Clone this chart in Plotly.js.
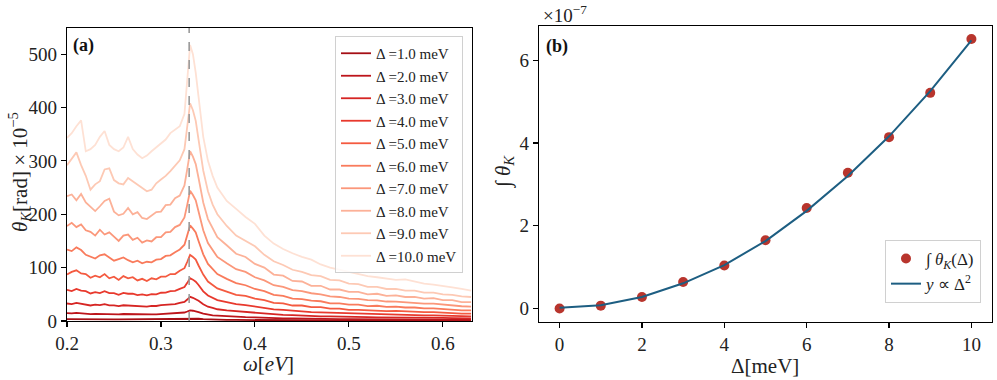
<!DOCTYPE html>
<html>
<head>
<meta charset="utf-8">
<script src="https://cdn.plot.ly/plotly-3.0.1.min.js"></script>
<style>
  html, body { margin: 0; padding: 0; background: #fff; }
  #chart { width: 997px; height: 380px; }
</style>
</head>
<body>
<div id="chart"></div>
<script>
// panel (a): Kerr angle spectra, one curve per gap value
const omega = [0.200, 0.205, 0.210, 0.215, 0.220, 0.225, 0.230, 0.235, 0.240, 0.245,
  0.250, 0.255, 0.260, 0.265, 0.270, 0.275, 0.280, 0.285, 0.290, 0.295,
  0.300, 0.305, 0.310, 0.315, 0.320, 0.325, 0.328, 0.331, 0.334, 0.337,
  0.340, 0.345, 0.350, 0.355, 0.360, 0.370, 0.380, 0.390, 0.400, 0.410,
  0.420, 0.430, 0.440, 0.450, 0.460, 0.470, 0.480, 0.490, 0.500, 0.510,
  0.520, 0.530, 0.540, 0.550, 0.560, 0.570, 0.580, 0.590, 0.600, 0.610,
  0.620, 0.630];

const gaps = [1, 2, 3, 4, 5, 6, 7, 8, 9, 10];

const theta1 = [3.5, 3.6, 3.7, 3.6, 3.4, 3.3, 3.3, 3.4, 3.4, 3.3, 3.2, 3.1, 3.2, 3.3, 3.1, 3.1, 3.0, 3.1, 3.1, 3.2,
  3.2, 3.3, 3.5, 3.5, 3.7, 4.0, 4.4, 5.0, 4.8, 4.6, 4.2, 3.5, 3.0, 2.7, 2.5, 2.2, 2.0, 1.8, 1.7, 1.5,
  1.4, 1.3, 1.2, 1.1, 1.1, 1.0, 0.9, 0.9, 0.9, 0.8, 0.8, 0.8, 0.7, 0.7, 0.7, 0.7, 0.7, 0.6, 0.6, 0.6, 0.6, 0.5];
const theta2 = [14.9, 14.2, 15.1, 14.0, 13.9, 12.9, 13.5, 13.1, 13.9, 13.0, 12.9, 12.3, 13.1, 12.8, 12.7, 12.2, 12.4, 12.0, 12.6, 12.5,
  13.2, 13.3, 14.0, 14.1, 15.0, 15.9, 17.8, 19.9, 19.2, 18.5, 16.6, 13.9, 12.1, 10.6, 10.0, 8.8, 8.0, 7.3, 6.9, 6.0,
  5.7, 5.1, 4.9, 4.4, 4.4, 3.9, 3.8, 3.6, 3.5, 3.4, 3.1, 3.2, 3.0, 2.9, 2.9, 2.8, 2.7, 2.6, 2.5, 2.4, 2.3, 2.2];
const theta3 = [32.8, 31.6, 33.9, 32.0, 31.2, 29.1, 30.5, 29.6, 31.4, 29.2, 29.3, 27.8, 29.5, 28.9, 28.9, 27.3, 28.1, 27.0, 28.4, 28.1,
  29.8, 30.0, 31.6, 31.8, 33.9, 35.8, 40.2, 45.3, 43.5, 41.2, 37.9, 31.4, 26.8, 24.5, 22.0, 19.8, 18.2, 16.5, 15.5, 13.6,
  12.7, 11.4, 11.0, 9.9, 9.8, 8.8, 8.7, 8.0, 8.0, 7.4, 7.3, 6.9, 6.9, 6.5, 6.6, 6.1, 6.1, 5.8, 5.8, 5.3, 5.2, 4.8];
const theta4 = [58.5, 56.2, 60.1, 56.9, 55.8, 51.6, 53.9, 52.4, 55.9, 52.1, 52.3, 49.2, 52.6, 51.1, 51.4, 48.5, 49.9, 48.0, 50.5, 49.8,
  52.9, 53.0, 56.0, 56.3, 60.1, 63.5, 71.5, 80.4, 77.5, 73.6, 67.5, 55.6, 47.7, 43.6, 39.2, 35.3, 31.7, 29.9, 26.8, 24.8,
  21.9, 20.9, 18.9, 18.2, 16.8, 16.3, 14.9, 14.8, 13.7, 13.5, 12.6, 12.7, 11.8, 11.9, 11.3, 11.2, 10.5, 10.6, 9.9, 9.8, 8.9, 8.7];
const theta5 = [87, 92, 95, 89, 88, 81, 85, 82, 88, 80, 83, 77, 84, 80, 82, 76, 79, 75, 80, 78,
  83, 83, 88, 88, 94, 99, 111, 124, 120, 115, 104, 87, 74, 68, 61, 55, 49, 47, 42, 39,
  34, 33, 29, 29, 26, 26, 23, 23, 21, 21, 20, 20, 18.5, 18.8, 17.6, 17.8, 16.5, 16.6, 15.5, 15.4, 14.0, 13.8];
const theta6 = [134, 131, 138, 133, 124, 121, 117, 123, 125, 119, 113, 116, 119, 114, 110, 113, 108, 111, 110, 115,
  116, 122, 123, 129, 134, 143, 160, 179, 173, 166, 150, 125, 107, 98, 88, 79, 71, 67, 60, 56,
  49, 47, 42, 41, 38, 37, 33, 33, 30.5, 30.5, 28, 28.6, 26.4, 26.8, 25.3, 25.3, 23.6, 23.8, 22.2, 22.0, 20.0, 19.8];
const theta7 = [178, 184, 176, 181, 170, 167, 160, 171, 162, 166, 158, 150, 160, 162, 152, 156, 147, 151, 149, 157,
  157, 166, 167, 176, 180, 194, 218, 244, 236, 226, 205, 170, 146, 133, 120, 108, 97, 92, 82, 76,
  67, 64, 58, 56, 52, 50, 46, 45, 42, 41.5, 39, 38.8, 36.5, 36.4, 35, 34.4, 32.5, 32.4, 30.6, 29.9, 27.6, 27];
const theta8 = [234, 237, 226, 238, 222, 214, 206, 215, 225, 229, 205, 198, 201, 212, 200, 204, 193, 191, 197, 204,
  205, 217, 218, 230, 235, 254, 285, 318, 308, 294, 268, 222, 191, 174, 157, 142, 126, 120, 107, 100,
  87, 85, 75, 74, 66, 66, 59, 59, 54.5, 54.5, 50, 51, 47, 48, 45, 45, 42, 43, 39, 39, 35.5, 35.5];
const theta9 = [292, 305, 316, 292, 272, 246, 256, 262, 284, 286, 264, 258, 256, 268, 262, 255, 250, 243, 246, 258,
  265, 272, 281, 290, 301, 322, 362, 408, 395, 375, 340, 282, 243, 218, 200, 178, 160, 150, 140, 124,
  112, 105, 96, 92, 86, 84, 77, 76, 70, 69, 64, 64, 60, 60, 57, 57, 53, 53, 50, 49, 46, 45];
const theta10 = [343, 352, 365, 376, 318, 322, 330, 345, 356, 330, 322, 318, 325, 345, 322, 312, 305, 310, 318, 325,
  332, 340, 352, 358, 365, 388, 450, 517, 500, 465, 420, 345, 300, 272, 250, 225, 210, 195, 182, 160,
  145, 135, 127, 120, 115, 106, 100, 96, 92, 88, 84, 82, 80, 77, 78, 74, 70, 68, 66, 63, 60, 57];

const thetaCurves = [theta1, theta2, theta3, theta4, theta5, theta6, theta7, theta8, theta9, theta10];
const peakOmega = 0.33;

// panel (b): integrated Kerr angle (units of 1e-7) and quadratic fit
const deltaPts = [0, 1, 2, 3, 4, 5, 6, 7, 8, 9, 10];
const integTheta = [0, 0.07, 0.28, 0.64, 1.04, 1.65, 2.43, 3.28, 4.14, 5.21, 6.51];
const fitTheta = [0.02, 0.08, 0.28, 0.61, 1.05, 1.63, 2.36, 3.2, 4.16, 5.25, 6.48];

const reds = ['#a50f15', '#bd151b', '#d62523', '#e8392d', '#f45a40', '#f97b5c',
  '#fb977a', '#fcb198', '#fdc9b4', '#fee1d4'];

const W = 997, H = 380;
const px = x => x / W;
const py = y => 1 - y / H;
const FONT = 'Liberation Serif';

const traces = thetaCurves.map((vals, i) => ({
  type: 'scatter',
  mode: 'lines',
  x: omega,
  y: vals,
  xaxis: 'x',
  yaxis: 'y',
  name: `Δ =${gaps[i].toFixed(1)} meV`,
  legend: 'legend',
  line: { color: reds[i], width: 1.8 },
  hoverinfo: 'skip'
}));

traces.push({
  type: 'scatter',
  mode: 'markers',
  x: deltaPts,
  y: integTheta,
  xaxis: 'x2',
  yaxis: 'y2',
  name: '∫ <i>θ</i><sub><i>K</i></sub>(Δ)',
  legend: 'legend2',
  marker: { color: '#b8352d', size: 10 }
}, {
  type: 'scatter',
  mode: 'lines',
  x: deltaPts,
  y: fitTheta,
  xaxis: 'x2',
  yaxis: 'y2',
  name: '<i>y</i> ∝ Δ<sup>2</sup>',
  legend: 'legend2',
  line: { color: '#1d5e82', width: 2 }
});

const axisBase = {
  showline: true,
  mirror: true,
  linecolor: '#000',
  linewidth: 1.1,
  ticks: 'outside',
  ticklen: 5,
  tickwidth: 1.1,
  tickcolor: '#000',
  showgrid: false,
  zeroline: false,
  tickfont: { family: FONT, size: 19, color: '#222' }
};

const layout = {
  width: W,
  height: H,
  margin: { l: 0, r: 0, t: 0, b: 0 },
  paper_bgcolor: '#fff',
  plot_bgcolor: '#fff',
  font: { family: FONT, color: '#222' },
  xaxis: Object.assign({}, axisBase, {
    domain: [px(67), px(472)], range: [0.2, 0.631], anchor: 'y',
    tickvals: [0.2, 0.3, 0.4, 0.5, 0.6], tickformat: '.1f'
  }),
  yaxis: Object.assign({}, axisBase, {
    domain: [py(321), py(28)], range: [0, 549], anchor: 'x',
    tickvals: [0, 100, 200, 300, 400, 500]
  }),
  xaxis2: Object.assign({}, axisBase, {
    domain: [px(539), px(992)], range: [-0.5, 10.5], anchor: 'y2',
    tickvals: [0, 2, 4, 6, 8, 10]
  }),
  yaxis2: Object.assign({}, axisBase, {
    domain: [py(322), py(26)], range: [-0.325, 6.825], anchor: 'x2',
    tickvals: [0, 2, 4, 6]
  }),
  legend: {
    x: px(463), y: py(36), xanchor: 'right', yanchor: 'top',
    bgcolor: 'rgba(255,255,255,0.8)', bordercolor: '#d0d0d0', borderwidth: 1,
    font: { family: FONT, size: 15, color: '#222' },
    itemwidth: 30
  },
  legend2: {
    x: px(981), y: py(303), xanchor: 'right', yanchor: 'bottom',
    bgcolor: 'rgba(255,255,255,0.8)', bordercolor: '#d0d0d0', borderwidth: 1,
    font: { family: FONT, size: 17, color: '#222' },
    itemwidth: 30
  },
  showlegend: true,
  shapes: [{
    type: 'line', xref: 'x', yref: 'y domain',
    x0: peakOmega, x1: peakOmega, y0: 0, y1: 1,
    line: { color: '#9a9a9a', width: 1.6, dash: 'dash' },
    layer: 'above'
  }],
  annotations: [
    { text: '<b>(a)</b>', xref: 'paper', yref: 'paper', x: px(71), y: py(45),
      xanchor: 'left', yanchor: 'middle', showarrow: false, font: { family: FONT, size: 18, color: '#111' } },
    { text: '<b>(b)</b>', xref: 'paper', yref: 'paper', x: px(544), y: py(46),
      xanchor: 'left', yanchor: 'middle', showarrow: false, font: { family: FONT, size: 18, color: '#111' } },
    { text: '×10<sup>−7</sup>', xref: 'paper', yref: 'paper', x: px(541), y: py(14),
      xanchor: 'left', yanchor: 'middle', showarrow: false, font: { family: FONT, size: 19, color: '#222' } },
    { text: '<i>θ</i><sub><i>K</i></sub>[rad] × 10<sup>−5</sup>', xref: 'paper', yref: 'paper',
      x: px(19), y: py(172), textangle: -90, xanchor: 'center', yanchor: 'middle', showarrow: false,
      font: { family: FONT, size: 21, color: '#222' } },
    { text: '<i>ω</i>[<i>eV</i>]', xref: 'paper', yref: 'paper', x: px(268), y: py(364),
      xanchor: 'center', yanchor: 'middle', showarrow: false, font: { family: FONT, size: 21, color: '#222' } },
    { text: 'Δ[meV]', xref: 'paper', yref: 'paper', x: px(765), y: py(366),
      xanchor: 'center', yanchor: 'middle', showarrow: false, font: { family: FONT, size: 21, color: '#222' } },
    { text: '∫ <i>θ</i><sub><i>K</i></sub>', xref: 'paper', yref: 'paper', x: px(504), y: py(172),
      textangle: -90, xanchor: 'center', yanchor: 'middle', showarrow: false, font: { family: FONT, size: 21, color: '#222' } }
  ]
};

Plotly.newPlot('chart', traces, layout, { displayModeBar: false, staticPlot: true });
</script>
</body>
</html>
